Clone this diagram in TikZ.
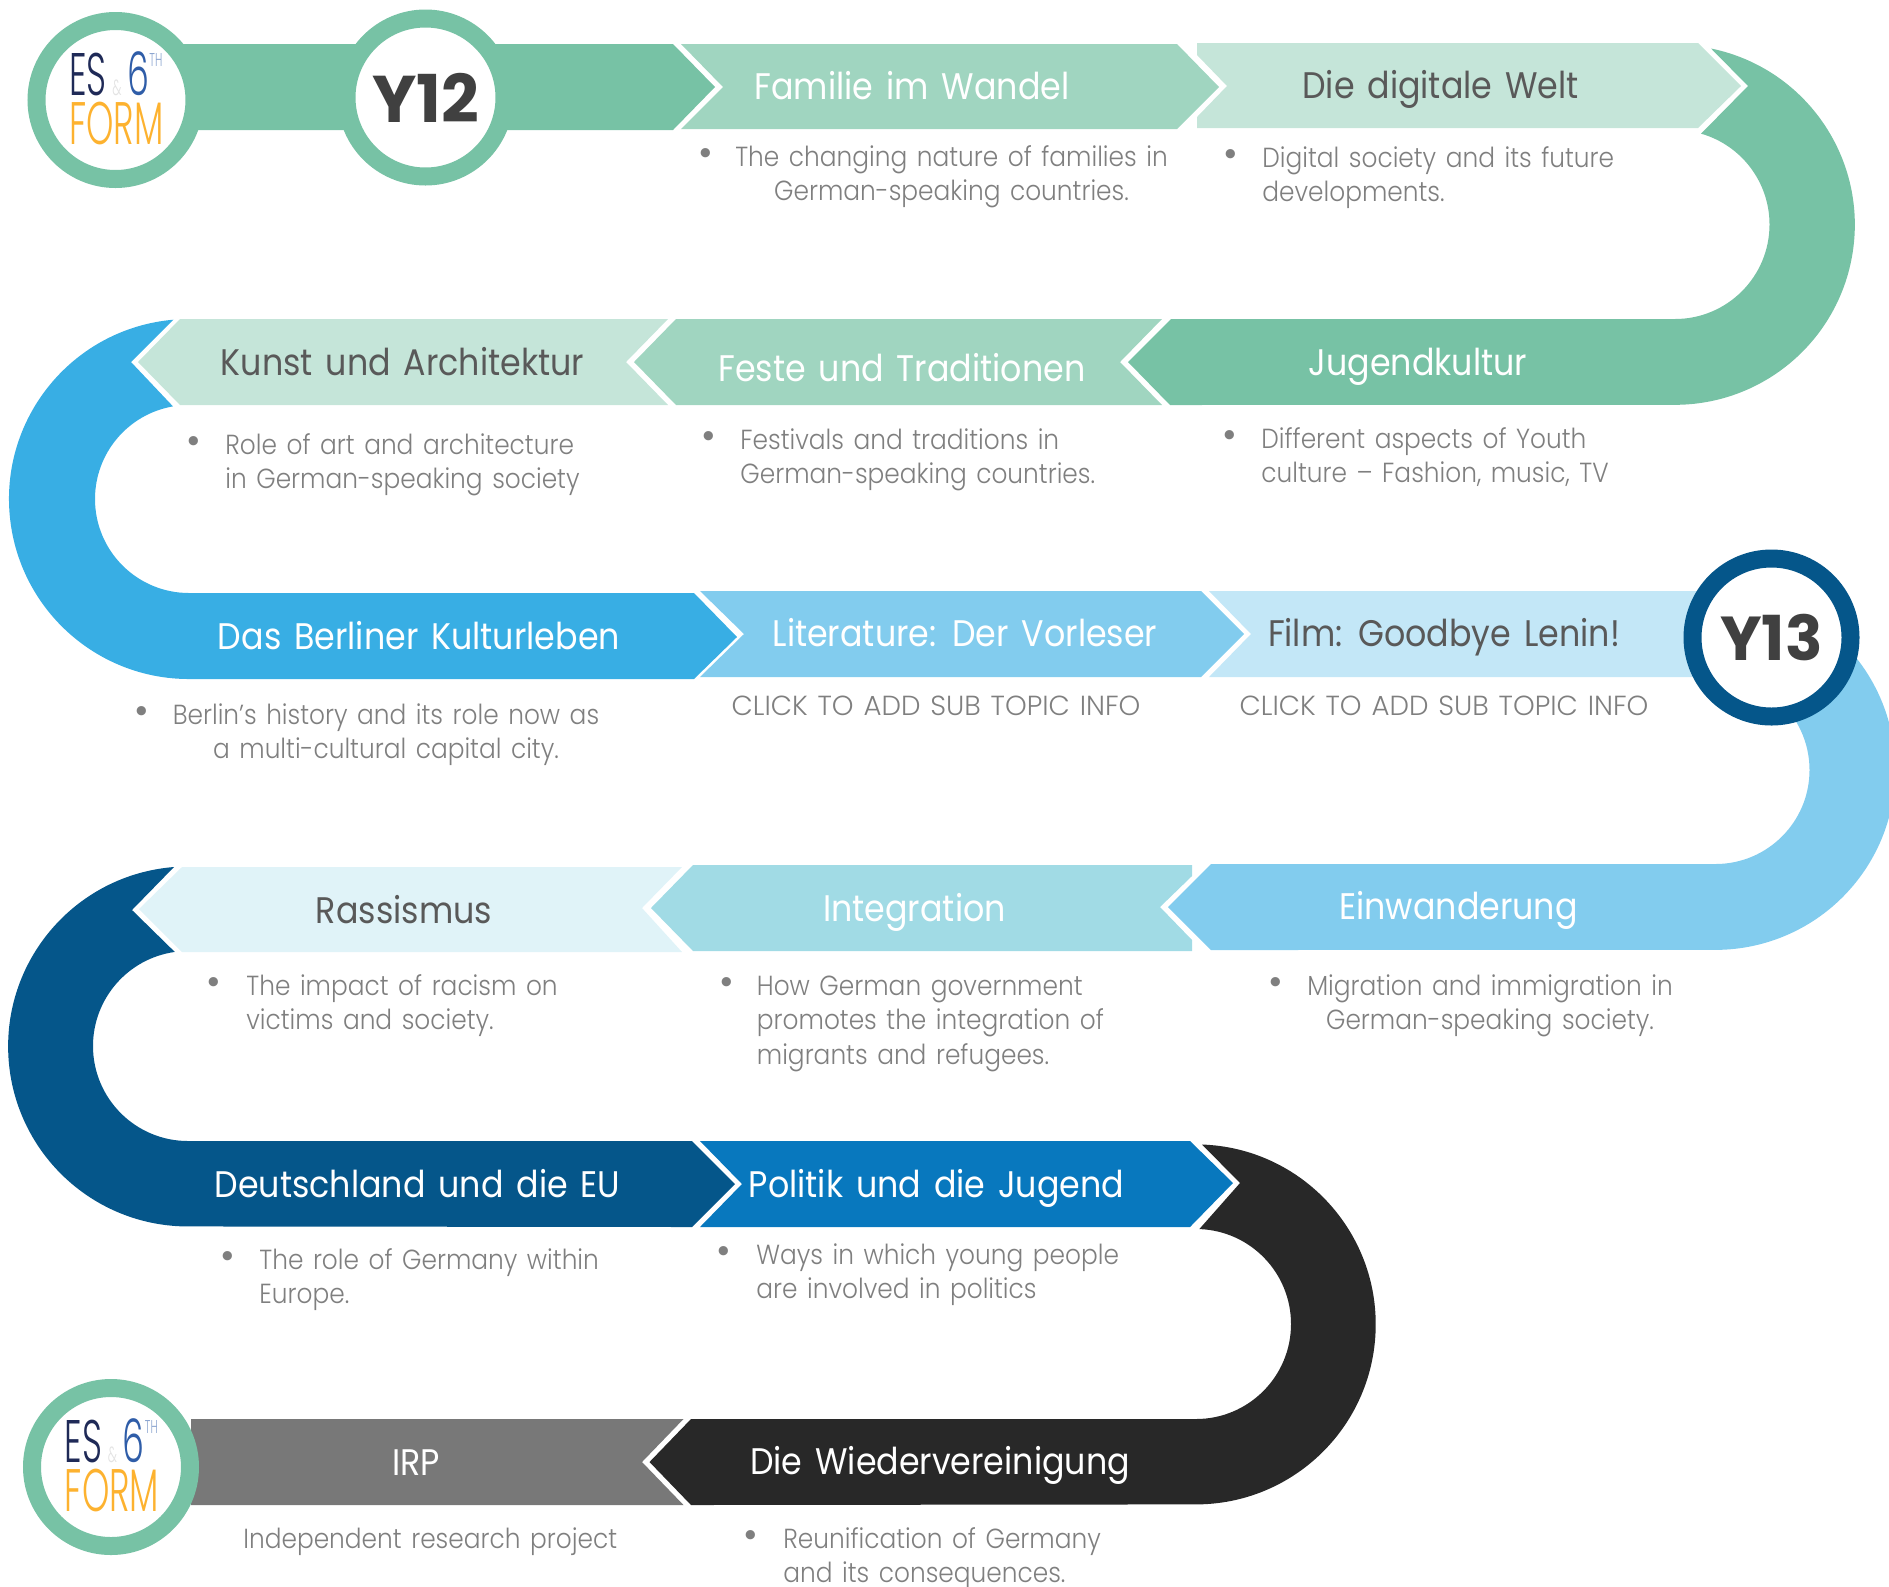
\documentclass[tikz,border=0pt]{standalone}
\usepackage{fontspec}
\usepackage{xcolor}
\usepackage{tikz}
\newfontfamily\bandfont[FakeStretch=0.9,WordSpace=1.45]{Poppins}
\newfontfamily\infofont[FakeStretch=0.9,WordSpace=1.4]{Poppins Light}
\newfontfamily\clickfont[FakeStretch=1.0,WordSpace=1.3]{Poppins Light}
\newfontfamily\dotfont{Poppins Light}
\newfontfamily\logofont[FakeStretch=0.58]{Poppins Light}
\newfontfamily\yearfont{Poppins Bold}
\definecolor{greenA}{HTML}{77C2A5}
\definecolor{greenB}{HTML}{A0D5C0}
\definecolor{greenC}{HTML}{C5E5D9}
\definecolor{blueA}{HTML}{38AEE4}
\definecolor{blueB}{HTML}{82CCEE}
\definecolor{blueC}{HTML}{C3E7F7}
\definecolor{tealB}{HTML}{A1DBE5}
\definecolor{tealC}{HTML}{E0F3F8}
\definecolor{navyA}{HTML}{05568A}
\definecolor{navyB}{HTML}{0878BE}
\definecolor{inkA}{HTML}{282828}
\definecolor{inkB}{HTML}{787878}
\definecolor{darktext}{HTML}{595959}
\definecolor{infotext}{HTML}{7F7F7F}
\definecolor{yeartext}{HTML}{404040}
\definecolor{logoNavy}{HTML}{1F2A57}
\definecolor{logoBlue}{HTML}{2F5DA8}
\definecolor{logoPale}{HTML}{8CA5D0}
\definecolor{logoGrey}{HTML}{E3E3E3}
\definecolor{logoOrange}{HTML}{FDB22F}
\newcommand{\logotext}{
    \node[logobig,text=logoNavy] (es) at (-46.5,-5) {ES};
    \node[logoamp] (amp) at (-3.5,-5) {\&};
    \node[logobig,text=logoBlue] (six) at (11.5,-5) {6};
    \node[logoth] (th) at (33.5,-34) {TH};
    \node[logobig,text=logoOrange] (form) at (-46.5,44) {FORM};
}

\begin{document}
\begin{tikzpicture}[x=0.5pt,y=-0.5pt]
    \tikzstyle{bandwhite}=[anchor=base,inner sep=0pt,text=white,font=\bandfont\fontsize{18.5}{20}\selectfont]
    \tikzstyle{banddark}=[bandwhite,text=darktext]
    \tikzstyle{infoleft}=[anchor=base west,inner sep=0pt,align=left,text=infotext,font=\infofont\fontsize{13.8}{17.25}\selectfont]
    \tikzstyle{infomid}=[infoleft,anchor=base,align=center]
    \tikzstyle{infocaps}=[infomid,font=\clickfont\fontsize{13.8}{17.25}\selectfont]
    \tikzstyle{dot}=[anchor=base,inner sep=0pt,text=infotext,font=\dotfont\fontsize{20}{20}\selectfont]
    \tikzstyle{ring}=[circle,fill=white,line width=9pt,minimum size=79pt,inner sep=0pt,text=yeartext,font=\yearfont\fontsize{31}{31}\selectfont]
    \tikzstyle{logobig}=[anchor=base west,inner sep=0pt,font=\logofont\fontsize{30}{30}\selectfont]
    \tikzstyle{logoamp}=[anchor=base west,inner sep=0pt,text=logoGrey,font=\logofont\fontsize{11}{11}\selectfont]
    \tikzstyle{logoth}=[anchor=base west,inner sep=0pt,text=logoPale,font=\logofont\fontsize{9.3}{9.3}\selectfont]
\clip (0,0) rectangle (1889,1586);
\fill[greenA] (150,44) -- (673,44) -- (715,87) -- (673,130) -- (150,130) -- cycle;
\fill[greenB] (681,44) -- (1177,44) -- (1219,87) -- (1177,129) -- (681,129) -- (723,87) -- cycle;
\fill[greenC] (1197,43) -- (1698,43) -- (1741,86) -- (1698,128) -- (1197,128) -- (1197,117) -- (1227,86) -- (1197,55) -- cycle;
\fill[greenA] (1171,319) -- (1675,319) arc[start angle=-90,end angle=74,radius=47.25pt] -- (1748,86) -- (1711,48.5) arc[start angle=78.4,end angle=-90,radius=90pt] -- (1170,405) -- (1128,362) -- cycle;
\fill[greenB] (676,319) -- (1162,319) -- (1120,362) -- (1162,405) -- (676,405) -- (634,362) -- cycle;
\fill[greenC] (180,319) -- (668,319) -- (626,362) -- (668,405) -- (180,405) -- (138,362) -- cycle;
\fill[blueA] (189,593) arc[start angle=270,end angle=99.8,radius=47pt] -- (131,362) -- (173.3,319.7) arc[start angle=95,end angle=270,radius=90pt] -- (694,679) -- (737,637) -- (694,593) -- cycle;
\fill[blueB] (700,591) -- (1201,591) -- (1244,634) -- (1201,677) -- (700,677) -- (744,634) -- cycle;
\fill[blueC] (1209,591) -- (1720,591) -- (1720,677) -- (1209,677) -- (1251,634) -- cycle;
\fill[blueB] (1211,864) -- (1715.5,864) arc[start angle=-90,end angle=50,radius=47pt] -- (1831,632) arc[start angle=50,end angle=-90,radius=90pt] -- (1211,950) -- (1168,907) -- cycle;
\fill[tealB] (693,865) -- (1192,865) -- (1192,876) -- (1160,907) -- (1192,940) -- (1192,951) -- (693,951) -- (651,908) -- cycle;
\fill[tealC] (182,867) -- (682,867) -- (642,908) -- (682,952) -- (182,952) -- (139,909) -- cycle;
\fill[navyA] (188,1141) arc[start angle=270,end angle=98,radius=47.5pt] -- (132,910) -- (174,867) arc[start angle=94.5,end angle=270,radius=90pt] -- (692,1227) -- (735,1184) -- (692,1141) -- cycle;
\fill[navyB] (700,1141) -- (1190,1141) -- (1233,1183) -- (1190,1227) -- (700,1227) -- (742,1184) -- cycle;
\fill[inkA] (691,1419) -- (1196,1419) arc[start angle=-90,end angle=88,radius=47.5pt] -- (1240,1183) -- (1202,1144.5) arc[start angle=88,end angle=-90,radius=90pt] -- (691,1505) -- (649.5,1462) -- cycle;
\fill[inkB] (191,1419) -- (683.5,1419) -- (642,1462) -- (683.5,1505) -- (191,1505) -- cycle;
\node[ring,draw=greenA] (logotop) at (115.5,100) {};
\node[ring,draw=greenA,font=\yearfont\fontsize{33}{33}\selectfont] (ytwelve) at (425.5,97.5) {Y12};
\node[ring,draw=navyA] (ythirteen) at (1771.5,637.5) {Y13};
\node[ring,draw=greenA] (logobottom) at (111,1467) {};
\begin{scope}[shift={(115.5,100)},name prefix=top]
    \logotext
\end{scope}
\begin{scope}[shift={(111,1467)},name prefix=bottom]
    \logotext
\end{scope}
\node[bandwhite] (familie) at (912,99) {Familie im Wandel};
\node[banddark] (digital) at (1440.5,98) {Die digitale Welt};
\node[banddark] (kunst) at (402.5,375) {Kunst und Architektur};
\node[bandwhite] (feste) at (902,381) {Feste und Traditionen};
\node[bandwhite] (jugend) at (1418,375) {Jugendkultur};
\node[bandwhite] (berlin) at (419,649) {Das Berliner Kulturleben};
\node[bandwhite] (vorleser) at (965,646) {Literature: Der Vorleser};
\node[banddark] (film) at (1444,646) {Film: Goodbye Lenin!};
\node[bandwhite] (einwand) at (1458.5,919) {Einwanderung};
\node[bandwhite] (integr) at (914.5,921) {Integration};
\node[banddark] (rassis) at (404,923) {Rassismus};
\node[bandwhite] (eu) at (417.5,1197) {Deutschland und die EU};
\node[bandwhite] (politik) at (936.5,1197) {Politik und die Jugend};
\node[bandwhite] (wieder) at (940,1474) {Die Wiedervereinigung};
\node[bandwhite] (irp) at (416,1475) {IRP};
\node[dot] (dotfamilie) at (706,166) {•};
\node[infomid] (infofamilie) at (951.5,200.5) {The changing nature of families in\\German-speaking countries.};
\node[dot] (dotdigital) at (1231,167) {•};
\node[infoleft] (infodigital) at (1262,201.5) {Digital society and its future\\developments.};
\node[dot] (dotkunst) at (194,454) {•};
\node[infoleft] (infokunst) at (225,488.5) {Role of art and architecture\\in German-speaking society};
\node[dot] (dotfeste) at (709,449) {•};
\node[infoleft] (infofeste) at (740,483.5) {Festivals and traditions in\\German-speaking countries.};
\node[dot] (dotjugend) at (1230,448) {•};
\node[infoleft] (infojugend) at (1261,482.5) {Different aspects of Youth\\culture – Fashion, music, TV};
\node[dot] (dotberlin) at (142,724) {•};
\node[infomid] (infoberlin) at (386,758.5) {Berlin’s history and its role now as\\a multi-cultural capital city.};
\node[infocaps] (infovorleser) at (936,715) {CLICK TO ADD SUB TOPIC INFO};
\node[infocaps] (infofilm) at (1444,715) {CLICK TO ADD SUB TOPIC INFO};
\node[dot] (doteinwand) at (1276,995) {•};
\node[infomid] (infoeinwand) at (1490,1029.5) {Migration and immigration in\\German-speaking society.};
\node[dot] (dotintegr) at (726.5,995) {•};
\node[infoleft] (infointegr) at (756.5,1064) {How German government\\promotes the integration of\\migrants and refugees.};
\node[dot] (dotrassis) at (214,995) {•};
\node[infoleft] (inforassis) at (246,1029.5) {The impact of racism on\\victims and society.};
\node[dot] (doteu) at (228,1269) {•};
\node[infoleft] (infoeu) at (259,1303.5) {The role of Germany within\\Europe.};
\node[dot] (dotpolitik) at (724,1264) {•};
\node[infoleft] (infopolitik) at (756,1298.5) {Ways in which young people\\are involved in politics};
\node[infoleft] (infoirp) at (243,1548) {Independent research project};
\node[dot] (dotwieder) at (751,1548) {•};
\node[infoleft] (infowieder) at (783,1582.5) {Reunification of Germany\\and its consequences.};
\end{tikzpicture}
\end{document}
